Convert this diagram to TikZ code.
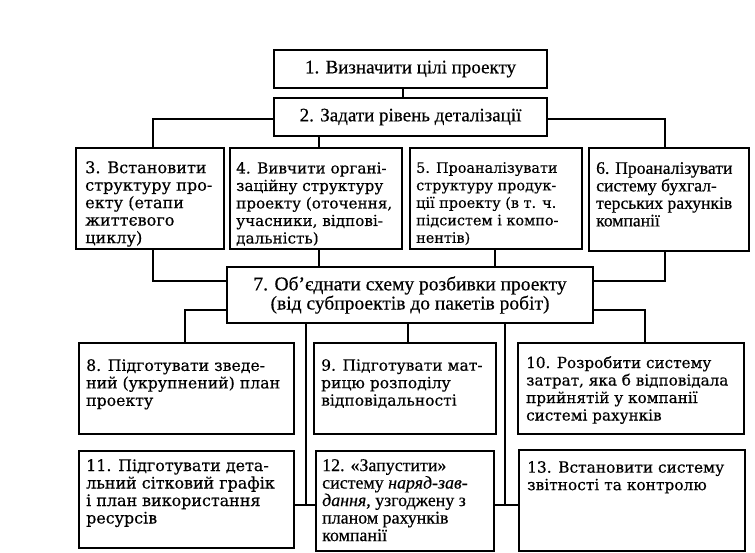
\documentclass[tikz,border=0pt]{standalone}
\usepackage{fontspec}
\setmainfont[UprightFeatures={FakeBold=0.45},ItalicFeatures={FakeBold=0.45}]{Liberation Serif}
\newfontfamily\wideserif[UprightFeatures={FakeBold=0.4}]{DejaVu Serif}
\begin{document}
\begin{tikzpicture}[x=1pt,y=-1pt,
  box/.style={draw, line width=2.1pt, inner sep=0pt, anchor=north west},
  cbox/.style={draw, line width=2.1pt, inner sep=0pt, anchor=north west, align=center},
  wtxt/.style={anchor=north west, inner sep=0pt, align=left, font=\wideserif\fontsize{#1}{17.5}\selectfont},
  wtxt/.default=15,
  ttxt/.style={anchor=north west, inner sep=0pt, align=left, font=\fontsize{#1}{17.5}\selectfont},
  ttxt/.default=17.5,
  conn/.style={line width=1.8pt}]
\useasboundingbox (0,0) rectangle (755,553);
\fill[white] (0,0) rectangle (755,553);

% boxes
\node[cbox, minimum width=273pt, minimum height=38pt, font=\fontsize{19}{20}\selectfont] (b1) at (273,49) {1. Визначити цілі проекту};
\node[cbox, minimum width=273pt, minimum height=38pt, font=\fontsize{19}{20}\selectfont] (b2) at (273,97) {2. Задати рівень деталізації};
\node[box, minimum width=148pt, minimum height=101pt] (b3) at (75,147) {};
\node[box, minimum width=172pt, minimum height=101pt] (b4) at (229,147) {};
\node[box, minimum width=172pt, minimum height=101pt] (b5) at (409,147) {};
\node[box, minimum width=160pt, minimum height=103pt] (b6) at (588,147) {};
\node[cbox, minimum width=366pt, minimum height=56pt, font=\fontsize{19.5}{18}\selectfont] (b7) at (226,266) {7. Об’єднати схему розбивки проекту\\(від субпроектів до пакетів робіт)};
\node[box, minimum width=215pt, minimum height=91pt] (b8) at (78,342) {};
\node[box, minimum width=182pt, minimum height=91pt] (b9) at (313,342) {};
\node[box, minimum width=226pt, minimum height=91pt] (b10) at (517,342) {};
\node[box, minimum width=215pt, minimum height=97pt] (b11) at (78,450) {};
\node[box, minimum width=178pt, minimum height=100pt] (b12) at (315,450) {};
\node[box, minimum width=226pt, minimum height=101pt] (b13) at (518,449) {};

% texts
\node[wtxt=16.1] (t3) at (85,161) {3. Встановити\\структуру про-\\екту (етапи\\життєвого\\циклу)};
\node[wtxt=15.2] (t4) at (236,162) {4. Вивчити органі-\\заційну структуру\\проекту (оточення,\\учасники, відпові-\\дальність)};
\node[wtxt=14.4] (t5) at (416,162) {5. Проаналізувати\\структуру продук-\\ції проекту (в т. ч.\\підсистем і компо-\\нентів)};
\node[ttxt=17.6] (t6) at (596,162) {6. Проаналізувати\\систему бухгал-\\терських рахунків\\компанії};
\node[wtxt=15.7] (t8) at (86,359) {8. Підготувати зведе-\\ний (укрупнений) план\\проекту};
\node[wtxt=15.5] (t9) at (321,359) {9. Підготувати мат-\\рицю розподілу\\відповідальності};
\node[wtxt=15.2] (t10) at (526,356) {10. Розробити систему\\затрат, яка б відповідала\\прийнятій у компанії\\системі рахунків};
\node[wtxt=15.9] (t11) at (86,459) {11. Підготувати дета-\\льний сітковий графік\\і план використання\\ресурсів};
\node[ttxt=17.9] (t12) at (322,459) {12. «Запустити»\\систему \textit{наряд-зав-}\\\textit{дання}, узгоджену з\\планом рахунків\\компанії};
\node[wtxt=15.4] (t13) at (527,461) {13. Встановити систему\\звітності та контролю};

% helper coordinates
\coordinate (v12) at (403,0);
\coordinate (vL) at (153,0);
\coordinate (vR) at (665,0);
\coordinate (v4) at (319,0);
\coordinate (v5) at (495,0);
\coordinate (h7a) at (0,281);
\coordinate (h7b) at (0,310);
\coordinate (v8) at (185,0);
\coordinate (v10) at (645,0);
\coordinate (v9) at (408,0);
\coordinate (jA) at (306,505);
\coordinate (jB) at (505,505);
\coordinate (h2) at (0,119);

% connectors
\draw[conn] (b1.south -| v12) -- (b2.north -| v12);
\draw[conn] (b2.west |- h2) -| (b3.north -| vL);
\draw[conn] (b2.east |- h2) -| (b6.north -| vR);
\draw[conn] (b2.south -| v4) -- (b4.north -| v4);
\draw[conn] (b3.south -| vL) |- (b7.west |- h7a);
\draw[conn] (b6.south -| vR) |- (b7.east |- h7a);
\draw[conn] (b4.south -| v4) -- (b7.north -| v4);
\draw[conn] (b5.south -| v5) -- (b7.north -| v5);
\draw[conn] (b7.west |- h7b) -| (b8.north -| v8);
\draw[conn] (b7.east |- h7b) -| (b10.north -| v10);
\draw[conn] (b7.south -| v9) -- (b9.north -| v9);
\draw[conn] (b7.south -| jA) -- (jA);
\draw[conn] (b11.east |- jA) -- (b12.west |- jA);
\draw[conn] (b7.south -| jB) -- (jB);
\draw[conn] (b12.east |- jB) -- (b13.west |- jB);
\end{tikzpicture}
\end{document}
